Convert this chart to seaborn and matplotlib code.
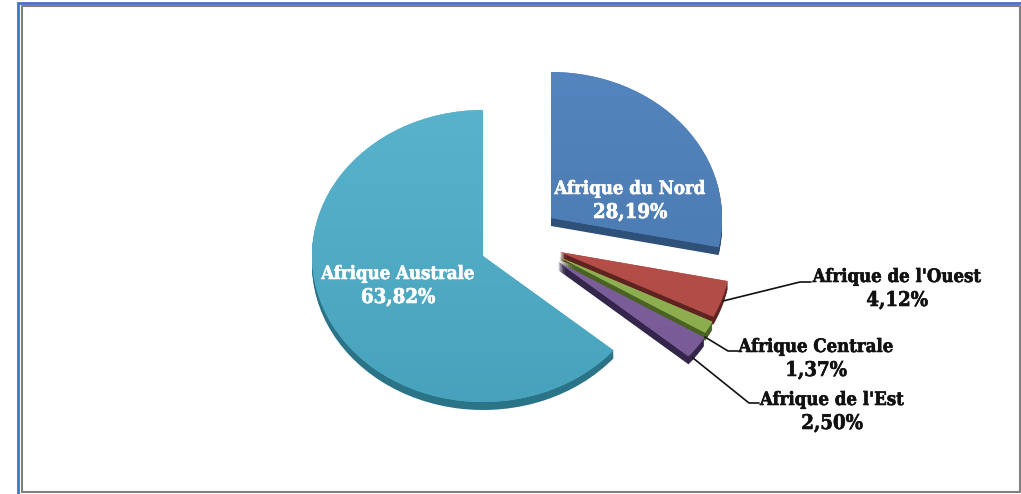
import numpy as np
import matplotlib
matplotlib.use("Agg")
import matplotlib.pyplot as plt
import matplotlib.patheffects as pe
from matplotlib.colors import LinearSegmentedColormap, to_rgb
import seaborn as sns

regions = ["Afrique du Nord", "Afrique de l'Ouest", "Afrique Centrale", "Afrique de l'Est", "Afrique Australe"]
shares = [28.19, 4.12, 1.37, 2.50, 63.82]
top_light = ["#5585BE", "#BC514C", "#94B655", "#7F619F", "#5AB3CC"]
top_dark = ["#4877AE", "#AD4A45", "#8AAA4C", "#775A95", "#46A2BC"]
side_cols = ["#2F5079", "#5F2422", "#4A6325", "#33264A", "#2B7488"]

W, H = 1021, 494
RX, RY = 171.0, 146.0
CX, CY = 483.0, 256.0
DEPTH = 8
apex_px = [(551, 218), (560, 252), (559, 257), (558, 262), (483, 256)]
label_px = [(630, 189, "white"), (897, 277, "#111111"), (816, 347, "#111111"), (832, 400, "#111111"), (398, 274, "white")]
leaders = [None, [(723, 301), (800, 282), (811, 282)], [(705, 337), (728, 351), (738, 351)],
           [(693, 358), (749, 403), (759, 403)], None]

sns.set_theme(style="white")
fig = plt.figure(figsize=(W / 100, H / 100), dpi=100, facecolor="white")
ax = fig.add_axes([0, 0, 1, 1])
ov = fig.add_axes([0, 0, 1, 1], zorder=5)
ov.patch.set_alpha(0)


def to_units(px, py):
    return (px - CX) / RX, (CY - py) / RY


side_palette = sns.color_palette(side_cols)
for d in range(DEPTH, 0, -1):
    wedges, _ = ax.pie(shares, startangle=90, counterclock=False, colors=side_palette,
                       wedgeprops={"linewidth": 0, "antialiased": True})
    for w, (px, py) in zip(wedges, apex_px):
        w.set_center(to_units(px, py + d))
        w.set_zorder(2)

wedges, _ = ax.pie(shares, startangle=90, counterclock=False, colors=sns.color_palette(top_light),
                   wedgeprops={"linewidth": 0})
ax.set_aspect("auto")
ax.set_xlim(-CX / RX, (W - CX) / RX)
ax.set_ylim((CY - H) / RY, CY / RY)
ramp = np.linspace(0, 1, 256).reshape(-1, 1)
for w, (px, py), a, b in zip(wedges, apex_px, top_light, top_dark):
    w.set_center(to_units(px, py))
    w.set_zorder(3)
    cmap = LinearSegmentedColormap.from_list("g", [to_rgb(a), to_rgb(b)])
    x0, y0 = to_units(px, py)
    im = ax.imshow(ramp, cmap=cmap, aspect="auto", zorder=4, origin="upper",
                   extent=(x0 - 1.1, x0 + 1.1, y0 - 1.1, y0 + 1.1))
    im.set_clip_path(w)
ax.set_aspect("auto")
ax.set_xlim(-CX / RX, (W - CX) / RX)
ax.set_ylim((CY - H) / RY, CY / RY)
ax.axis("off")

ov.set_xlim(0, W)
ov.set_ylim(H, 0)
ov.axis("off")

# frame
ov.plot([18, 18, W], [H, 3.5, 3.5], color="#4472C4", lw=2.0, solid_capstyle="butt", solid_joinstyle="miter")
ov.plot([21.5, 21.5, 1020, 1020, 21.5], [491.5, 6.5, 6.5, 491.5, 491.5], color="#808080", lw=1.5)

font = dict(family=["DejaVu Serif"], stretch="condensed", weight="bold",
            ha="center", va="center")
for name, val, (x, y, col), seg in zip(regions, shares, label_px, leaders):
    pct = f"{val:.2f}".replace(".", ",") + "%"
    stroke = [pe.withStroke(linewidth=0.4, foreground=col)]
    ov.text(x, y, name, color=col, fontsize=13.3, path_effects=stroke, **font)
    ov.text(x, y + 23, pct, color=col, fontsize=14.6, path_effects=stroke, **font)
    if seg:
        xs, ys = zip(*seg)
        ov.plot(xs, ys, color="#111111", lw=1.2)

fig.savefig("out.png", dpi=100, facecolor="white")
